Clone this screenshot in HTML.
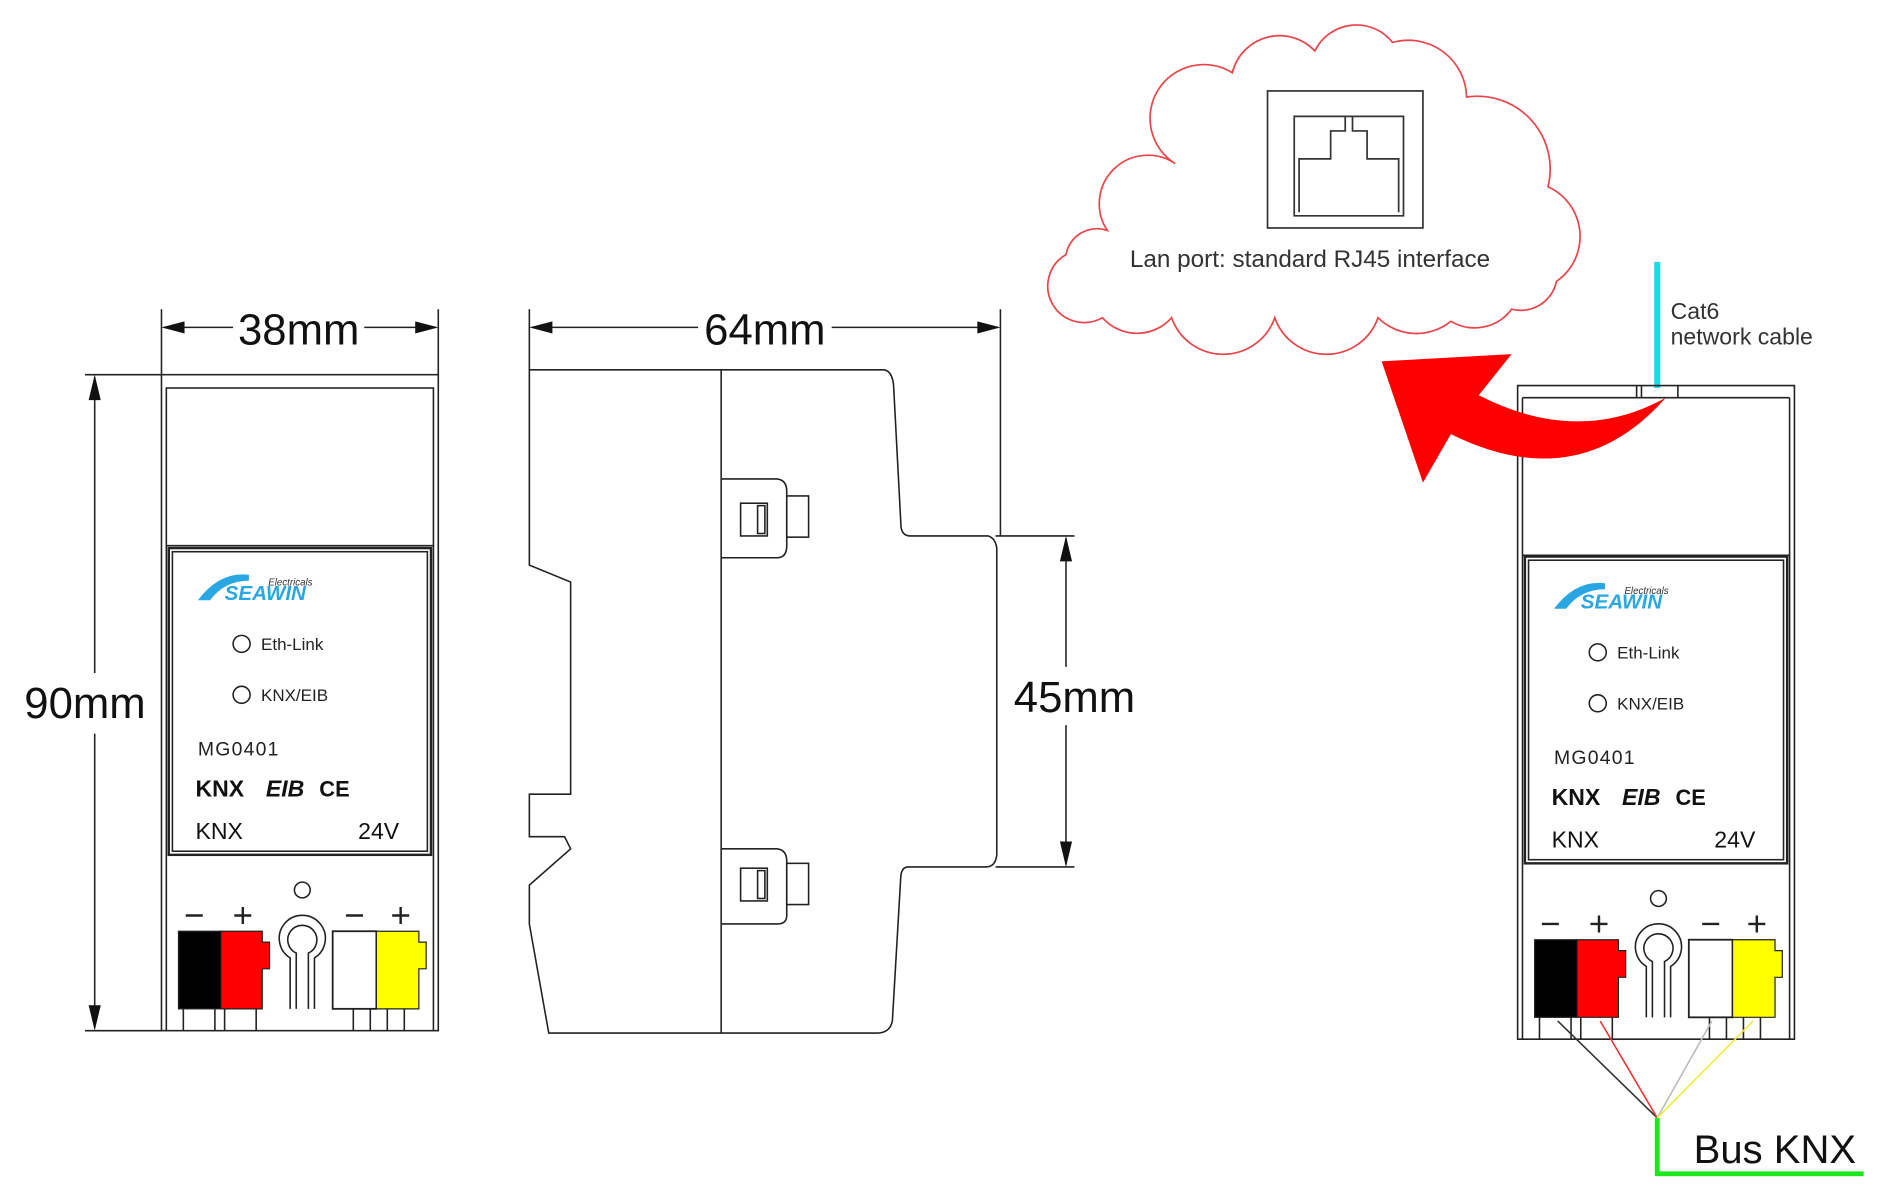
<!DOCTYPE html>
<html><head><meta charset="utf-8"><style>
html,body{margin:0;padding:0;background:#fff;}
svg{display:block;}
text{font-family:"Liberation Sans",sans-serif;}
</style></head><body>
<svg width="1894" height="1198" viewBox="0 0 1560 988" preserveAspectRatio="none" xmlns="http://www.w3.org/2000/svg">
<rect width="1560" height="988" fill="#fff"/>
<g stroke="#222" fill="none" stroke-width="1.3">
<line x1="133" y1="255" x2="133" y2="309"/><line x1="361" y1="255" x2="361" y2="309"/>
<line x1="135" y1="270" x2="192" y2="270"/><line x1="300" y1="270" x2="359" y2="270"/>
<line x1="70" y1="309" x2="133" y2="309"/><line x1="70" y1="850" x2="133" y2="850"/>
<line x1="78" y1="311" x2="78" y2="555"/><line x1="78" y1="605" x2="78" y2="848"/>
<line x1="436" y1="255" x2="436" y2="305"/><line x1="824" y1="255" x2="824" y2="442"/>
<line x1="438" y1="270" x2="575" y2="270"/><line x1="685" y1="270" x2="822" y2="270"/>
<line x1="820" y1="442" x2="885" y2="442"/><line x1="820" y1="715" x2="885" y2="715"/>
<line x1="878" y1="444" x2="878" y2="550"/><line x1="878" y1="598" x2="878" y2="713"/>
</g>
<g fill="#111">
<polygon points="133,270 152,265 152,275"/><polygon points="361,270 342,265 342,275"/>
<polygon points="78,309 73,330 83,330"/><polygon points="78,850 73,829 83,829"/>
<polygon points="436,270 455,265 455,275"/><polygon points="824,270 805,265 805,275"/>
<polygon points="878,442 873,463 883,463"/><polygon points="878,715 873,694 883,694"/>
</g>
<text x="246" y="284" font-size="36" text-anchor="middle" fill="#111">38mm</text>
<text x="70" y="592" font-size="36" text-anchor="middle" fill="#111">90mm</text>
<text x="630" y="284" font-size="36" text-anchor="middle" fill="#111">64mm</text>
<text x="885" y="587" font-size="36" text-anchor="middle" fill="#111">45mm</text>

<g stroke="#222" fill="none" stroke-width="1.3">
<path d="M436,305 L728,305 Q735,306 736,318 L742,432 Q742,442 750,442 L814,442 Q820,444 821,452 L821,705 Q820,715 812,715 L748,715 Q743,715 742,722 L735,842 Q733,852 722,852 L452,852 L436,762 L436,730 L470,700 L465,690 L436,690 L436,655 L470,655 L470,480 L436,466 Z"/>
<line x1="594" y1="305" x2="594" y2="852"/>
<path d="M594,395 L640,395 Q648,396 648,405 L648,450 Q648,460 640,460 L594,460"/>
<rect x="648" y="409" width="18" height="34"/>
<rect x="610" y="415" width="22" height="27"/><rect x="624" y="417" width="6" height="23"/>
<path d="M594,700 L640,700 Q648,701 648,710 L648,755 Q648,762 640,762 L594,762"/>
<rect x="648" y="712" width="18" height="34"/>
<rect x="610" y="716" width="22" height="27"/><rect x="624" y="718" width="6" height="23"/>
</g>

<path fill="none" stroke="#e8454a" stroke-width="1.4" d="M908,262 A28,28 0 0 1 878,210 A26,26 0 0 1 912,190 A40,40 0 0 1 968,135 A35,35 0 0 1 1015,60 A40,40 0 0 1 1083,42 A38,38 0 0 1 1147,35 A48,48 0 0 1 1208,80 A60,60 0 0 1 1275,154 A45,45 0 0 1 1282,232 A30,30 0 0 1 1245,255 A38,38 0 0 1 1195,265 A45,45 0 0 1 1135,262 A45,45 0 0 1 1050,262 A45,45 0 0 1 965,262 A38,38 0 0 1 908,262 Z"/>
<rect x="1044" y="75" width="128" height="113" fill="none" stroke="#333" stroke-width="1.4"/>
<path fill="none" stroke="#333" stroke-width="1.4" d="M1066,96 L1066,178 L1156,178 L1156,96 Z M1070,175 L1070,131 L1096,131 L1096,108 L1108,108 L1108,96 M1152,175 L1152,131 L1126,131 L1126,108 L1114,108 L1114,96"/>
<text x="1079" y="220" font-size="20" text-anchor="middle" fill="#333">Lan port: standard RJ45 interface</text>

<line x1="1365" y1="216" x2="1365" y2="320" stroke="#1fd8ec" stroke-width="5"/>
<text x="1376" y="263" font-size="19" fill="#333">Cat6</text>
<text x="1376" y="284" font-size="19" fill="#333">network cable</text>

<g stroke="#222" fill="none" stroke-width="1.3">
<path d="M1250,857 L1250,318 L1478,318 L1478,857 Z"/>
<line x1="1254" y1="328" x2="1474" y2="328"/>
<line x1="1254" y1="328" x2="1254" y2="857"/><line x1="1474" y1="328" x2="1474" y2="857"/>
<line x1="1348" y1="318" x2="1348" y2="328"/><line x1="1352" y1="318" x2="1352" y2="328"/><line x1="1382" y1="318" x2="1382" y2="328"/>
<line x1="1254" y1="458" x2="1474" y2="458"/>
</g>

<path fill="#f00" d="M1372,328 Q1300,368 1218,326 L1245,292 L1138,298 L1172,398 L1195,358 Q1300,410 1372,328 Z"/>

<g transform="translate(133,309)">
<g stroke="#222" fill="none" stroke-width="1.3">
<rect x="0" y="0" width="228" height="541"/>
<rect x="4" y="11" width="220" height="130"/>
<line x1="4" y1="141" x2="4" y2="541"/><line x1="224" y1="141" x2="224" y2="541"/>
<rect x="6" y="143" width="216" height="253" stroke-width="2"/>
<rect x="9" y="146" width="210" height="247"/>
<circle cx="66" cy="222" r="7"/><circle cx="66" cy="264" r="7"/>
<circle cx="116" cy="425" r="6.5"/>
<path d="M106,523 L106,481 A19,19 0 1 1 126,481 L126,523 M111,523 L111,477 A12,12 0 1 1 121,477 L121,523"/>
<line x1="18" y1="523" x2="18" y2="541"/><line x1="44" y1="523" x2="44" y2="541"/><line x1="52" y1="523" x2="52" y2="541"/><line x1="78" y1="523" x2="78" y2="541"/>
<line x1="158" y1="523" x2="158" y2="541"/><line x1="172" y1="523" x2="172" y2="541"/><line x1="186" y1="523" x2="186" y2="541"/><line x1="200" y1="523" x2="200" y2="541"/>
<line x1="20" y1="446" x2="34" y2="446" stroke-width="2"/><path d="M60,446 L74,446 M67,439 L67,453" stroke-width="2"/>
<line x1="152" y1="446" x2="166" y2="446" stroke-width="2"/><path d="M190,446 L204,446 M197,439 L197,453" stroke-width="2"/>
</g>
<rect x="14" y="459" width="35" height="64" fill="#000" stroke="#222"/>
<path d="M49,459 L83,459 L83,468 L89,468 L89,490 L83,490 L83,523 L49,523 Z" fill="#f00" stroke="#222"/>
<rect x="141" y="459" width="36" height="64" fill="#fff" stroke="#222" stroke-width="1.5"/>
<path d="M177,459 L212,459 L212,468 L218,468 L218,490 L212,490 L212,523 L177,523 Z" fill="#ff0" stroke="#222"/>
<path d="M30,186 Q48,162 72,165 L72,170 Q52,170 40,186 Z" fill="#2aa7e3"/>
<text x="52" y="186" font-size="17" font-weight="bold" font-style="italic" fill="#2aa7e3">SEAWIN</text>
<text x="88" y="174" font-size="8" font-style="italic" fill="#333">Electricals</text>
<text x="82" y="227" font-size="14" fill="#222">Eth-Link</text>
<text x="82" y="269" font-size="14" fill="#222">KNX/EIB</text>
<text x="30" y="314" font-size="16" fill="#222" letter-spacing="1">MG0401</text>
<text x="28" y="348" font-size="19" font-weight="bold" fill="#111">KNX</text>
<text x="86" y="348" font-size="19" font-weight="bold" font-style="italic" fill="#111">EIB</text>
<text x="130" y="348" font-size="18" font-weight="bold" fill="#111">CE</text>
<text x="28" y="383" font-size="19" fill="#111">KNX</text>
<text x="162" y="383" font-size="19" fill="#111">24V</text>
</g>

<g transform="translate(1250,316)">
<g stroke="#222" fill="none" stroke-width="1.3">
<rect x="6" y="143" width="216" height="253" stroke-width="2"/>
<rect x="9" y="146" width="210" height="247"/>
<circle cx="66" cy="222" r="7"/><circle cx="66" cy="264" r="7"/>
<circle cx="116" cy="425" r="6.5"/>
<path d="M106,523 L106,481 A19,19 0 1 1 126,481 L126,523 M111,523 L111,477 A12,12 0 1 1 121,477 L121,523"/>
<line x1="18" y1="523" x2="18" y2="541"/><line x1="44" y1="523" x2="44" y2="541"/><line x1="52" y1="523" x2="52" y2="541"/><line x1="78" y1="523" x2="78" y2="541"/>
<line x1="158" y1="523" x2="158" y2="541"/><line x1="172" y1="523" x2="172" y2="541"/><line x1="186" y1="523" x2="186" y2="541"/><line x1="200" y1="523" x2="200" y2="541"/>
<line x1="20" y1="446" x2="34" y2="446" stroke-width="2"/><path d="M60,446 L74,446 M67,439 L67,453" stroke-width="2"/>
<line x1="152" y1="446" x2="166" y2="446" stroke-width="2"/><path d="M190,446 L204,446 M197,439 L197,453" stroke-width="2"/>
</g>
<rect x="14" y="459" width="35" height="64" fill="#000" stroke="#222"/>
<path d="M49,459 L83,459 L83,468 L89,468 L89,490 L83,490 L83,523 L49,523 Z" fill="#f00" stroke="#222"/>
<rect x="141" y="459" width="36" height="64" fill="#fff" stroke="#222" stroke-width="1.5"/>
<path d="M177,459 L212,459 L212,468 L218,468 L218,490 L212,490 L212,523 L177,523 Z" fill="#ff0" stroke="#222"/>
<path d="M30,186 Q48,162 72,165 L72,170 Q52,170 40,186 Z" fill="#2aa7e3"/>
<text x="52" y="186" font-size="17" font-weight="bold" font-style="italic" fill="#2aa7e3">SEAWIN</text>
<text x="88" y="174" font-size="8" font-style="italic" fill="#333">Electricals</text>
<text x="82" y="227" font-size="14" fill="#222">Eth-Link</text>
<text x="82" y="269" font-size="14" fill="#222">KNX/EIB</text>
<text x="30" y="314" font-size="16" fill="#222" letter-spacing="1">MG0401</text>
<text x="28" y="348" font-size="19" font-weight="bold" fill="#111">KNX</text>
<text x="86" y="348" font-size="19" font-weight="bold" font-style="italic" fill="#111">EIB</text>
<text x="130" y="348" font-size="18" font-weight="bold" fill="#111">CE</text>
<text x="28" y="383" font-size="19" fill="#111">KNX</text>
<text x="162" y="383" font-size="19" fill="#111">24V</text>
</g>

<line x1="1283" y1="842" x2="1365" y2="922" stroke="#333" stroke-width="1.3"/>
<line x1="1318" y1="842" x2="1365" y2="922" stroke="#e33" stroke-width="1.3"/>
<line x1="1410" y1="842" x2="1365" y2="922" stroke="#bbb" stroke-width="1.3"/>
<line x1="1444" y1="842" x2="1365" y2="922" stroke="#ee3" stroke-width="1.3"/>
<path d="M1365,922 L1365,968 L1535,968" fill="none" stroke="#1be81b" stroke-width="4"/>
<text x="1395" y="959" font-size="33" fill="#111">Bus KNX</text>
</svg>
</body></html>
